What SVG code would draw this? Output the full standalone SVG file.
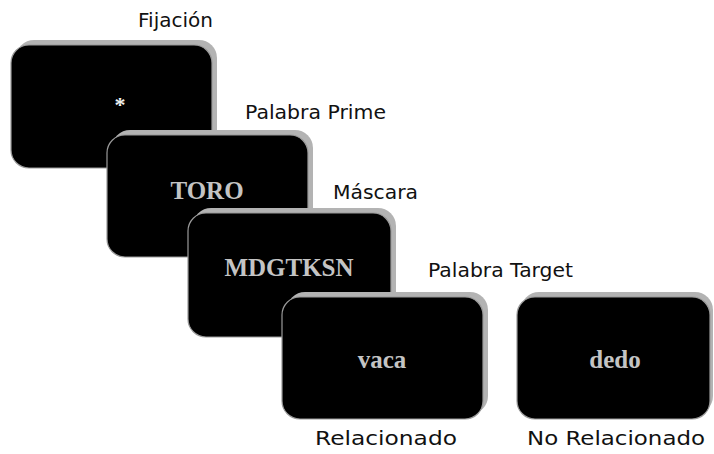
<svg xmlns="http://www.w3.org/2000/svg" width="714" height="454" viewBox="0 0 714 454">
  <defs>
    <style>
      .shadow { fill: #b3b3b3; }
      .screen { fill: #000000; stroke: #9a9a9a; stroke-width: 1.2; }
      .stim { font-family: "Liberation Serif", "Times New Roman", serif; font-weight: bold; font-size: 25px; fill: #c4c4c4; text-anchor: middle; }
      .label { font-family: "DejaVu Sans", "Liberation Sans", sans-serif; font-size: 20px; fill: #111111; }
    </style>
  </defs>
  <rect width="714" height="454" fill="#ffffff"/>

  <!-- Fixation screen -->
  <g id="fijacion">
    <rect class="shadow" x="16" y="40" width="201" height="123" rx="18"/>
    <rect class="screen" x="11" y="45" width="201" height="123" rx="18"/>
    <text x="120" y="112" class="stim" style="fill:#f0f0f0;font-size:22px">*</text>
  </g>
  <text class="label" x="138" y="27" textLength="75" lengthAdjust="spacingAndGlyphs">Fijación</text>

  <!-- Prime word screen -->
  <g id="prime">
    <rect class="shadow" x="112" y="130" width="201" height="122" rx="18"/>
    <rect class="screen" x="107" y="135" width="201" height="122" rx="18"/>
    <text x="207" y="199" class="stim">TORO</text>
  </g>
  <text class="label" x="245" y="119" textLength="141" lengthAdjust="spacingAndGlyphs">Palabra Prime</text>

  <!-- Mask screen -->
  <g id="mascara">
    <rect class="shadow" x="193" y="208" width="203" height="124" rx="18"/>
    <rect class="screen" x="188" y="213" width="203" height="124" rx="18"/>
    <text x="289" y="276" class="stim">MDGTKSN</text>
  </g>
  <text class="label" x="333" y="199" textLength="85" lengthAdjust="spacingAndGlyphs">Máscara</text>

  <!-- Target word screen, related -->
  <g id="target-relacionado">
    <rect class="shadow" x="287" y="292" width="201" height="122" rx="18"/>
    <rect class="screen" x="282" y="297" width="201" height="122" rx="18"/>
    <text x="382" y="368" class="stim">vaca</text>
  </g>
  <text class="label" x="428" y="277" textLength="145" lengthAdjust="spacingAndGlyphs">Palabra Target</text>
  <text class="label" x="315" y="445" textLength="142" lengthAdjust="spacingAndGlyphs">Relacionado</text>

  <!-- Target word screen, unrelated -->
  <g id="target-no-relacionado">
    <rect class="shadow" x="521" y="292" width="192" height="122" rx="18"/>
    <rect class="screen" x="517" y="297" width="193" height="122" rx="18"/>
    <text x="615" y="368" class="stim">dedo</text>
  </g>
  <text class="label" x="527" y="445" textLength="178" lengthAdjust="spacingAndGlyphs">No Relacionado</text>

  <g id="connectors"/>
</svg>
